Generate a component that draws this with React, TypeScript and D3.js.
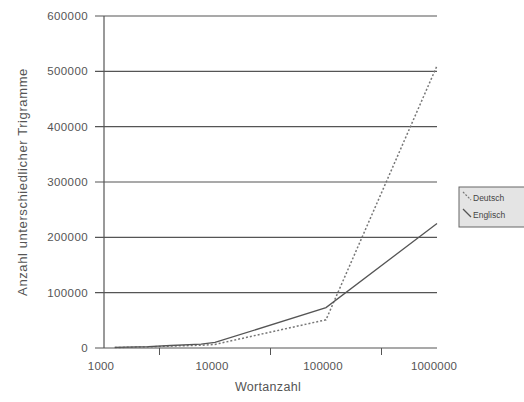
import React from "react";
import * as d3 from "d3";

// Wortanzahl (x) und Anzahl unterschiedlicher Trigramme (y)
const wordCounts = [1250, 2500, 4000, 7500, 10000, 100000, 1000000];
const deutsch = [800, 2000, 3500, 5000, 6500, 51000, 510000];
const englisch = [1000, 2500, 4500, 7000, 10000, 73000, 225000];
const yTicks = [0, 100000, 200000, 300000, 400000, 500000, 600000];
const xLabels = [1000, 10000, 100000, 1000000];
const xMinor = [3162, 31623, 316228];
const legendNames = ["Deutsch", "Englisch"];

const W = 524;
const H = 402;
const font = "'Liberation Sans', Arial, sans-serif";
const txt = "#555";

export default function App() {
  const x = d3.scaleLog().domain([1000, 1000000]).range([104, 437]);
  const y = d3.scaleLinear().domain([0, 600000]).range([348, 16]);

  const line = d3
    .line<number>()
    .x((_, i) => x(wordCounts[i]))
    .y((d) => y(d));

  return (
    <svg
      width={W}
      height={H}
      style={{ position: "absolute", left: 0, top: 0, background: "#fff" }}
      fontFamily={font}
    >
      {/* Gitterlinien + y-Achse */}
      {yTicks.map((t) => (
        <g key={t}>
          <line x1={95} x2={437} y1={y(t)} y2={y(t)} stroke="#555" strokeWidth={1.2} />
          <text
            x={88}
            y={y(t) + 4}
            textAnchor="end"
            fontSize={11.5}
            fill={txt}
            letterSpacing={0.4}
          >
            {t}
          </text>
        </g>
      ))}
      <line x1={104} x2={104} y1={y(600000)} y2={348} stroke="#555" strokeWidth={1.2} />

      {/* x-Achse */}
      {xMinor.map((t) => (
        <line key={t} x1={x(t)} x2={x(t)} y1={348} y2={355} stroke="#555" strokeWidth={1} />
      ))}
      {xLabels.map((t) => (
        <text
          key={t}
          x={x(t) - 3}
          y={370}
          textAnchor="middle"
          fontSize={11.5}
          fill={txt}
          letterSpacing={0.2}
        >
          {t}
        </text>
      ))}
      <text x={268} y={391} textAnchor="middle" fontSize={12.5} fill={txt} letterSpacing={0.3}>
        Wortanzahl
      </text>
      <text
        transform={`translate(27,182) rotate(-90)`}
        textAnchor="middle"
        fontSize={13}
        fill={txt}
        letterSpacing={0.6}
      >
        Anzahl unterschiedlicher Trigramme
      </text>

      {/* Linien */}
      <path
        d={line(deutsch) ?? ""}
        fill="none"
        stroke="#777"
        strokeWidth={1.5}
        strokeDasharray="2,2"
      />
      <path d={line(englisch) ?? ""} fill="none" stroke="#555" strokeWidth={1.3} />

      {/* Legende */}
      <g transform="translate(459,187)">
        <rect x={0} y={0} width={70} height={40} fill="#e4e4e4" stroke="#666" strokeWidth={1} />
        {legendNames.map((n, i) => (
          <g key={n} transform={`translate(0,${i * 17})`}>
            <line
              x1={4}
              y1={5}
              x2={12}
              y2={13}
              stroke={i === 0 ? "#777" : "#555"}
              strokeWidth={1.2}
              strokeDasharray={i === 0 ? "2,1.5" : undefined}
            />
            <text x={14} y={14} fontSize={8.5} fill="#444">
              {n}
            </text>
          </g>
        ))}
      </g>
    </svg>
  );
}
